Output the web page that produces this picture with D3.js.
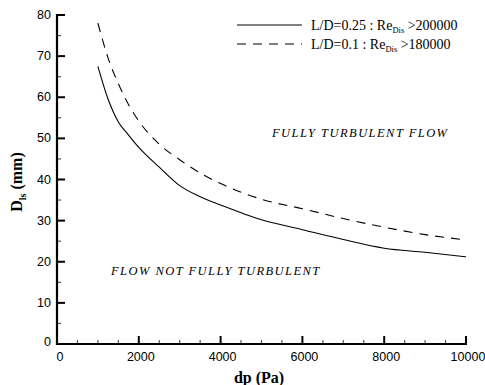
<!DOCTYPE html>
<html><head><meta charset="utf-8">
<script src="https://cdn.jsdelivr.net/npm/d3@7"></script>
<style>body{margin:0;background:#fff}svg{display:block}</style>
</head><body>
<script>
const dpValues = [1000,1250,1500,1750,2000,2500,3000,3500,4000,5000,6000,7000,8000,9000,10000];
const solidValues = [67.5,59.5,54,50.8,47.8,43,38.5,35.8,33.8,30.2,27.8,25.4,23.3,22.3,21.2];
const dashedValues = [78,69.5,63.3,58.2,54.2,48.6,44.8,41.6,39,35.2,32.9,30.5,28.4,26.6,25.3];
const xMajorTicks = [0,2000,4000,6000,8000,10000];
const yMajorTicks = [0,10,20,30,40,50,60,70,80];
const seriesNames = ["L/D=0.25 : Re", "L/D=0.1 : Re"];
const seriesThresholds = [">200000", ">180000"];

const W=485,H=385;
const svg=d3.select("body").append("svg").attr("width",W).attr("height",H);
const x=d3.scaleLinear().domain([0,10000]).range([57,466]);
const y=d3.scaleLinear().domain([0,80]).range([344,15]);

const g=svg.append("g");
d3.range(500,10000,500).filter(v=>v%2000!==0).forEach(v=>{
  g.append("line").attr("x1",x(v)).attr("x2",x(v)).attr("y1",y(0)).attr("y2",y(0)-4).attr("stroke","#555").attr("stroke-width",1.2);
});
d3.range(5,80,10).forEach(v=>{
  g.append("line").attr("x1",x(0)).attr("x2",x(0)+4).attr("y1",y(v)).attr("y2",y(v)).attr("stroke","#555").attr("stroke-width",1.2);
});
xMajorTicks.forEach(v=>{
  g.append("line").attr("x1",x(v)).attr("x2",x(v)).attr("y1",y(0)).attr("y2",y(0)-8).attr("stroke","#000").attr("stroke-width",2);
});
yMajorTicks.forEach(v=>{
  g.append("line").attr("x1",x(0)).attr("x2",x(0)+8).attr("y1",y(v)).attr("y2",y(v)).attr("stroke","#000").attr("stroke-width",2);
});
g.append("line").attr("x1",x(0)).attr("x2",x(0)).attr("y1",y(0)+1).attr("y2",y(80)-1).attr("stroke","#000").attr("stroke-width",2.2);
g.append("line").attr("x1",x(0)-1).attr("x2",x(10000)+1).attr("y1",y(0)).attr("y2",y(0)).attr("stroke","#000").attr("stroke-width",2);

xMajorTicks.forEach(v=>{
  svg.append("text").attr("x",x(v)+(v===0?3:2)).attr("y",y(0)+17).attr("text-anchor","middle")
    .attr("font-family","Liberation Sans, Arial, sans-serif").attr("font-size",12.5).text(v);
});
yMajorTicks.forEach(v=>{
  svg.append("text").attr("x",x(0)-6).attr("y",y(v)+(v===0?2:4)).attr("text-anchor","end")
    .attr("font-family","Liberation Sans, Arial, sans-serif").attr("font-size",12.5).text(v);
});

svg.append("text").attr("x",259).attr("y",383).attr("text-anchor","middle")
  .attr("font-family","Liberation Serif, Times New Roman, serif").attr("font-weight","bold").attr("font-size",16).text("dp (Pa)");
const yt=svg.append("text").attr("transform","translate(22,182) rotate(-90)").attr("text-anchor","middle")
  .attr("font-family","Liberation Serif, Times New Roman, serif").attr("font-weight","bold").attr("font-size",16);
yt.append("tspan").text("D");
yt.append("tspan").attr("font-size",10).attr("dy",4).text("ls");
yt.append("tspan").attr("dy",-4).text(" (mm)");

const line=d3.line().x(d=>x(d[0])).y(d=>y(d[1])).curve(d3.curveMonotoneX);
svg.append("path").datum(dpValues.map((d,i)=>[d,solidValues[i]])).attr("d",line)
  .attr("fill","none").attr("stroke","#000").attr("stroke-width",1.1);
svg.append("path").datum(dpValues.map((d,i)=>[d,dashedValues[i]])).attr("d",line)
  .attr("fill","none").attr("stroke","#000").attr("stroke-width",1.1).attr("stroke-dasharray","9,7");

const legY=[25,44];
[null,"9,7"].forEach((dash,i)=>{
  const l=svg.append("line").attr("x1",237).attr("x2",302).attr("y1",legY[i]).attr("y2",legY[i]).attr("stroke","#000").attr("stroke-width",1.1);
  if(dash) l.attr("stroke-dasharray",dash);
  const t=svg.append("text").attr("x",311).attr("y",legY[i]+4.5).attr("font-family","Liberation Serif, Times New Roman, serif").attr("font-size",14);
  t.append("tspan").text(seriesNames[i]);
  t.append("tspan").attr("font-size",8.5).attr("dy",3).text("Dis");
  t.append("tspan").attr("dy",-3).text(" "+seriesThresholds[i]);
});

svg.append("text").attr("x",272).attr("y",137).attr("font-family","Liberation Serif, Times New Roman, serif")
  .attr("font-style","italic").attr("font-size",12.5).attr("letter-spacing",1.45).text("FULLY TURBULENT FLOW");
svg.append("text").attr("x",111).attr("y",275).attr("font-family","Liberation Serif, Times New Roman, serif")
  .attr("font-style","italic").attr("font-size",12.5).attr("letter-spacing",1.45).text("FLOW NOT FULLY TURBULENT");
</script>
</body></html>
